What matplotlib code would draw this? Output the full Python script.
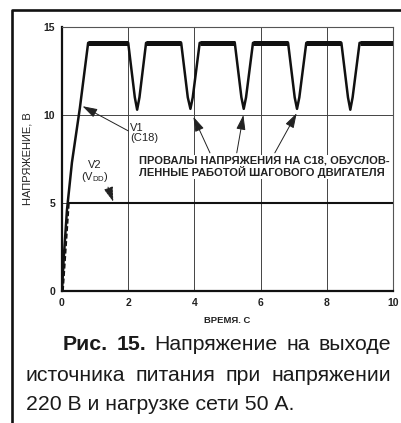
import matplotlib
matplotlib.use("Agg")
import matplotlib.pyplot as plt
from matplotlib.lines import Line2D

plt.rcParams["font.family"] = ["Liberation Sans", "DejaVu Sans"]

# V1 (C18) trace: breakpoints
t_v1 = [0, 0.05, 0.15, 0.3, 0.54, 0.79,
        2.0, 2.2, 2.27, 2.34, 2.54,
        3.6, 3.8, 3.88, 3.95, 4.16,
        5.22, 5.42, 5.49, 5.56, 5.77,
        6.83, 7.03, 7.1, 7.17, 7.38,
        8.44, 8.64, 8.71, 8.78, 8.99, 10]
v_v1 = [0, 1.8, 4.6, 7.3, 10.4, 14.1,
        14.1, 11.0, 10.3, 11.0, 14.1,
        14.1, 11.0, 10.35, 11.0, 14.1,
        14.1, 11.0, 10.35, 11.0, 14.1,
        14.1, 11.0, 10.35, 11.0, 14.1,
        14.1, 11.0, 10.3, 11.0, 14.1, 14.1]

# V2 (VDD) trace
t_v2 = [0.03, 0.21, 10]
v_v2 = [0, 5, 5]

x_ticks = [0, 2, 4, 6, 8, 10]
y_ticks = [0, 5, 10, 15]

# arrows from the "dips" note: (tail t, tail v, tip t, tip v)
dip_arrows = [(4.47, 7.85, 3.97, 9.9),
              (5.28, 7.85, 5.48, 10.0),
              (6.43, 7.85, 7.09, 10.1)]

caption_line1 = [("Рис.", "bold"), ("15.", "bold"), ("Напряжение", "normal"),
                 ("на", "normal"), ("выходе", "normal")]
caption_line2 = [("источника", "normal"), ("питания", "normal"),
                 ("при", "normal"), ("напряжении", "normal")]
caption_line3 = "220 В и нагрузке сети 50 А."

W, H = 402, 423
fig = plt.figure(figsize=(W / 100, H / 100), dpi=100)
ax = fig.add_axes([62 / W, 1 - 291 / H, 331 / W, 264 / H])

ax.set_xlim(0, 10)
ax.set_ylim(0, 15)
ax.set_xticks(x_ticks)
ax.set_yticks(y_ticks)
ax.tick_params(length=0, labelsize=7.5, labelcolor="#222", pad=5)
for lbl in ax.get_xticklabels() + ax.get_yticklabels():
    lbl.set_fontweight("bold")
ax.grid(True, color="#444", lw=0.7)
for s in ["left", "bottom"]:
    ax.spines[s].set_linewidth(1.6)
    ax.spines[s].set_color("#111")
for s in ["top", "right"]:
    ax.spines[s].set_linewidth(0.8)
    ax.spines[s].set_color("#555")

# V1 line, plateaus drawn heavier to mimic the ripple band
ax.plot(t_v1, v_v1, color="#111", lw=1.8, zorder=3)
for i in range(len(t_v1) - 1):
    if v_v1[i] == v_v1[i + 1] == max(v_v1):
        ax.plot(t_v1[i:i + 2], v_v1[i:i + 2], color="#111", lw=3.6,
                solid_capstyle="butt", zorder=3)

# V2 line
ax.plot(t_v2[:2], v_v2[:2], color="#111", lw=1.2, ls=(0, (3, 1.5)), zorder=3)
ax.plot(t_v2[1:], v_v2[1:], color="#111", lw=1.5, zorder=3)

ax.set_xlabel("ВРЕМЯ. С", fontsize=6.8, fontweight="bold", color="#222", labelpad=6)
ax.set_ylabel("НАПРЯЖЕНИЕ, В", fontsize=8, color="#222", labelpad=8)

arrow_kw = dict(arrowstyle="-|>,head_length=0.9,head_width=0.28", lw=0.7,
                color="#222", shrinkA=0, shrinkB=0)
ax.text(2.05, 9.0, "V1\n(C18)", fontsize=8, color="#222", va="center",
        ha="left", linespacing=1.0)
ax.annotate("", xy=(0.62, 10.5), xytext=(2.0, 9.1), arrowprops=arrow_kw)

ax.text(1.0, 6.75, "V2\n(V$_{\\mathregular{DD}}$)", fontsize=8, color="#222",
        va="center", ha="center", linespacing=1.0)
ax.annotate("", xy=(1.55, 5.07), xytext=(1.39, 5.9),
            arrowprops=dict(arrow_kw, ls=(0, (2, 1))))

ax.text(2.34, 7.05, "ПРОВАЛЫ НАПРЯЖЕНИЯ НА С18, ОБУСЛОВ-\nЛЕННЫЕ РАБОТОЙ ШАГОВОГО ДВИГАТЕЛЯ",
        fontsize=8, fontweight="bold", color="#222", ha="left", va="center",
        linespacing=1.0, zorder=4,
        bbox=dict(facecolor="white", edgecolor="none", pad=1.0))
for tt, tv, ht, hv in dip_arrows:
    ax.annotate("", xy=(ht, hv), xytext=(tt, tv), arrowprops=arrow_kw, zorder=5)

# outer frame of the figure block
fx = 12 / W
fy = 1 - 10 / H
fig.add_artist(Line2D([fx, fx, 1], [0, fy, fy], transform=fig.transFigure,
                      color="#111", lw=1.9))

# justified caption
renderer = fig.canvas.get_renderer()
cap_size = 15.3


def justify(words, x0, x1, baseline):
    arts = []
    for w, wt in words:
        arts.append(fig.text(0, 1 - baseline / H, w, fontsize=cap_size,
                             fontweight=wt, color="#1a1a1a", va="baseline"))
    widths = [a.get_window_extent(renderer).width for a in arts]
    gap = (x1 - x0 - sum(widths)) / (len(arts) - 1)
    x = x0
    for a, w in zip(arts, widths):
        a.set_x(x / W)
        x += w + gap


justify(caption_line1, 63, 391, 350)
justify(caption_line2, 26, 391, 381)
fig.text(26 / W, 1 - 410 / H, caption_line3, fontsize=cap_size,
         color="#1a1a1a", va="baseline")

fig.savefig("out.png", dpi=100)
